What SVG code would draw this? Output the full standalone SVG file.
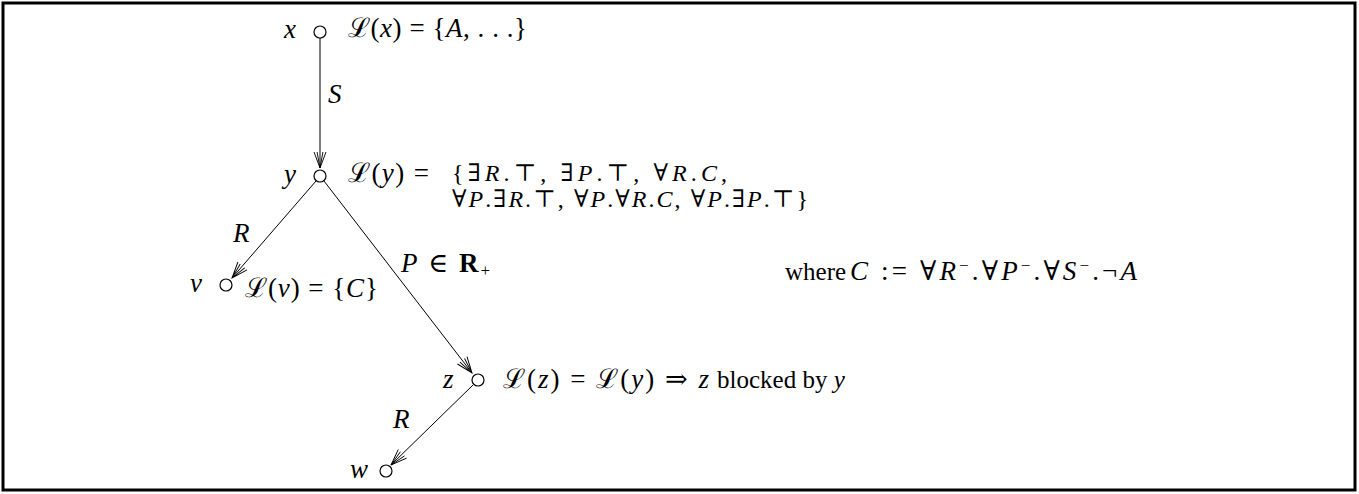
<svg xmlns="http://www.w3.org/2000/svg" width="1359" height="494" viewBox="0 0 1359 494">
<defs>
<style>
.t{font-family:"Liberation Serif","DejaVu Serif",serif;font-size:27px;fill:#000}
.s{font-family:"Liberation Serif","DejaVu Serif",serif;font-size:24px;fill:#000}
.r{font-family:"Liberation Serif","DejaVu Serif",serif;font-size:25px;fill:#000}
.i{font-style:italic}
.b{font-weight:bold}
.n circle{fill:#fff;stroke:#000;stroke-width:1.2}
.e line{stroke:#000;stroke-width:1}
</style>
<marker id="ah" markerUnits="userSpaceOnUse" markerWidth="20" markerHeight="20" viewBox="-13 -6 15 12" refX="0" refY="0" orient="auto">
<path d="M-12,-4.5 L0,0 L-12,4.5 M-12,-2.2 L0,0 L-12,2.2" fill="none" stroke="#000" stroke-width="0.7"/>
</marker>
</defs>
<rect x="3" y="3" width="1352" height="487" fill="#fff" stroke="#000" stroke-width="3"/>
<g id="connectors" class="e">
<line x1="320" y1="38" x2="320" y2="168" marker-end="url(#ah)"/>
<line x1="316" y1="181" x2="232" y2="278" marker-end="url(#ah)"/>
<line x1="324" y1="181" x2="472" y2="373" marker-end="url(#ah)"/>
<line x1="473" y1="385" x2="391" y2="465" marker-end="url(#ah)"/>
</g>
<g id="node-x" class="n">
<circle cx="320" cy="32" r="6"/>
<text class="t i" x="284" y="38">x</text>
<text class="t" x="348" y="37" textLength="179" lengthAdjust="spacing">ℒ(<tspan class="i">x</tspan>) = {<tspan class="i">A</tspan>, . . .}</text>
</g>
<g id="node-y" class="n">
<circle cx="320" cy="176" r="6"/>
<text class="t i" x="284" y="183">y</text>
<text class="t" x="348" y="182" textLength="81" lengthAdjust="spacing">ℒ(<tspan class="i">y</tspan>) =</text>
<text class="s" x="452" y="181" textLength="275" lengthAdjust="spacing">{∃<tspan class="i">R</tspan>.⊤, ∃<tspan class="i">P</tspan>.⊤, ∀<tspan class="i">R</tspan>.<tspan class="i">C</tspan>,</text>
<text class="s" x="452" y="207" textLength="356" lengthAdjust="spacing">∀<tspan class="i">P</tspan>.∃<tspan class="i">R</tspan>.⊤, ∀<tspan class="i">P</tspan>.∀<tspan class="i">R</tspan>.<tspan class="i">C</tspan>, ∀<tspan class="i">P</tspan>.∃<tspan class="i">P</tspan>.⊤}</text>
</g>
<g id="node-v" class="n">
<circle cx="226" cy="285" r="6"/>
<text class="t i" x="190" y="292">v</text>
<text class="t" x="245" y="297" textLength="133" lengthAdjust="spacing">ℒ(<tspan class="i">v</tspan>) = {<tspan class="i">C</tspan>}</text>
</g>
<g id="node-z" class="n">
<circle cx="478" cy="380" r="6"/>
<text class="t i" x="443" y="388">z</text>
<text class="t" x="503" y="388" textLength="206" lengthAdjust="spacing">ℒ(<tspan class="i">z</tspan>) = ℒ(<tspan class="i">y</tspan>) ⇒ <tspan class="i">z</tspan></text>
<text class="r" x="717" y="388">blocked by <tspan class="i">y</tspan></text>
</g>
<g id="node-w" class="n">
<circle cx="386" cy="471" r="6"/>
<text class="t i" x="350" y="478">w</text>
</g>
<g id="labels">
<text class="t i" x="328" y="103">S</text>
<text class="t i" x="233" y="242">R</text>
<text class="t" x="401" y="272" textLength="89" lengthAdjust="spacing"><tspan class="i">P</tspan> ∈ <tspan class="b">R</tspan><tspan font-size="17" dy="4">+</tspan></text>
<text class="t i" x="393" y="428">R</text>
<text class="r" x="785" y="280">where</text>
<text class="t" x="850" y="280" textLength="287" lengthAdjust="spacing"><tspan class="i">C</tspan> := ∀<tspan class="i">R</tspan><tspan font-size="17" dy="-9">−</tspan><tspan dy="9">.∀</tspan><tspan class="i">P</tspan><tspan font-size="17" dy="-9">−</tspan><tspan dy="9">.∀</tspan><tspan class="i">S</tspan><tspan font-size="17" dy="-9">−</tspan><tspan dy="9">.¬</tspan><tspan class="i">A</tspan></text>
</g>
</svg>
